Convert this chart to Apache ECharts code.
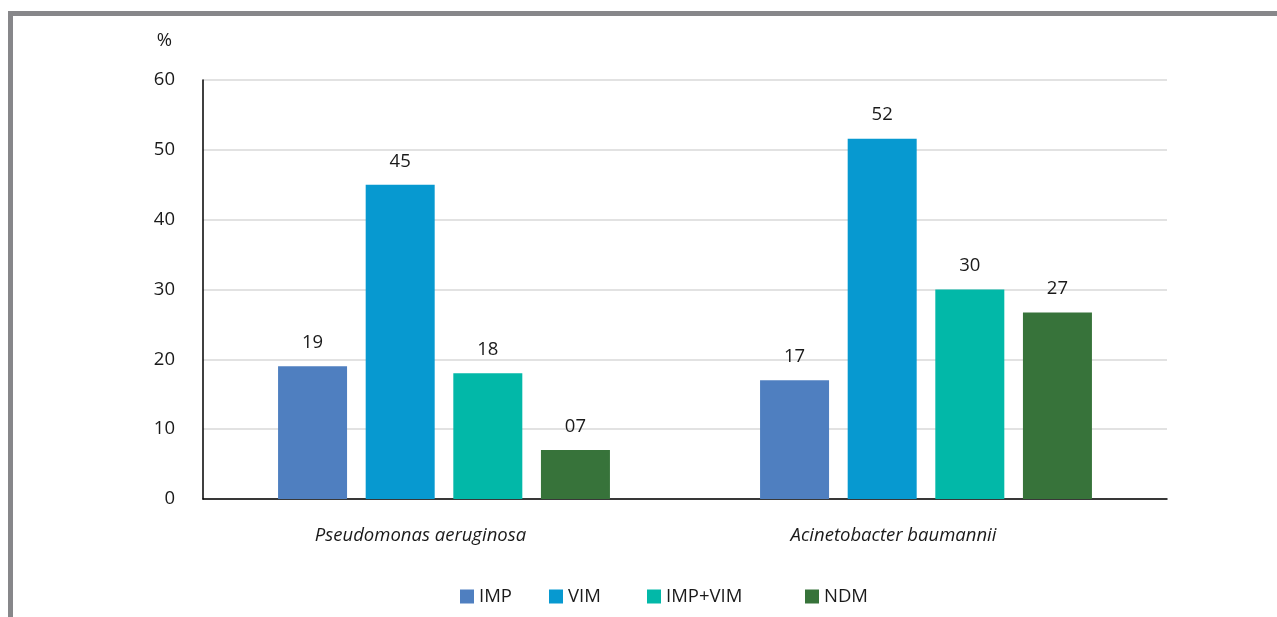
<!DOCTYPE html>
<html>
<head>
<meta charset="utf-8">
<script src="https://cdn.jsdelivr.net/npm/echarts@6/dist/echarts.min.js"></script>
<style>
  html, body { margin: 0; padding: 0; background: #fff; }
  #frame {
    position: absolute; left: 8px; top: 11px; right: 0; bottom: 0;
    border-top: 5px solid #87878a; border-left: 5px solid #87878a;
  }
  #main { position: absolute; left: 0; top: 0; width: 1277px; height: 617px; }
</style>
</head>
<body>
<div id="frame"></div>
<div id="main"></div>
<script>
const categories = ['Pseudomonas aeruginosa', 'Acinetobacter baumannii']
const seriesNames = ['IMP', 'VIM', 'IMP+VIM', 'NDM']
const impValues = [19, 17]
const vimValues = [45, 51.6]
const impVimValues = [18, 30]
const ndmValues = [7, 26.7]
const impLabels = ['19', '17']
const vimLabels = ['45', '52']
const impVimLabels = ['18', '30']
const ndmLabels = ['07', '27']
const yTicks = [0, 10, 20, 30, 40, 50, 60]

const colors = ['#4f7fc0', '#0799d0', '#02b8a8', '#37733a']
const font = 'Open Sans'
const fs = 18.5

const chart = echarts.init(document.getElementById('main'))

function makeSeries(name, values, labels, color) {
  return {
    name: name,
    type: 'bar',
    data: values,
    barWidth: 69,
    barGap: '27%',
    itemStyle: { color: color },
    label: {
      show: true,
      position: 'top',
      distance: 14,
      color: '#1a1a1a',
      fontFamily: font,
      fontSize: fs,
      formatter: (p) => labels[p.dataIndex],
    },
  }
}

// one legend per item, the gaps in the picture are uneven
const legendLefts = [455, 544, 642, 800]
const legends = seriesNames.map((n, i) => ({
  data: [n],
  left: legendLefts[i],
  top: 582,
  itemWidth: 14,
  itemHeight: 14,
  icon: 'rect',
  itemGap: 0,
  textStyle: { fontFamily: font, fontSize: fs, color: '#1a1a1a', padding: [8, 0, 0, 0] },
}))

// category names sit a bit left of the group centre in the picture
const labelShift = [47, 65]

chart.setOption({
  animation: false,
  legend: legends,
  grid: { left: 203, right: 110, top: 80, bottom: 118, containLabel: false },
  xAxis: {
    type: 'category',
    data: categories.map((c, i) => ({ value: c, textStyle: { padding: [0, labelShift[i], 0, 0] } })),
    axisLine: { lineStyle: { color: '#000', width: 1.5 } },
    axisTick: { show: false },
    axisLabel: {
      fontFamily: font, fontSize: fs, fontStyle: 'italic', color: '#1a1a1a', margin: 27,
    },
  },
  yAxis: {
    type: 'value',
    min: yTicks[0],
    max: yTicks[yTicks.length - 1],
    interval: 10,
    name: '%',
    nameLocation: 'end',
    nameGap: 30,
    nameTextStyle: { fontFamily: font, fontSize: fs, color: '#1a1a1a', align: 'right', padding: [0, 31, 0, 0] },
    axisLine: { show: true, lineStyle: { color: '#000', width: 1.5 } },
    axisTick: { show: false },
    axisLabel: { fontFamily: font, fontSize: fs, color: '#1a1a1a', margin: 28 },
    splitLine: { lineStyle: { color: '#d9d9d9', width: 1.5 } },
  },
  series: [
    makeSeries(seriesNames[0], impValues, impLabels, colors[0]),
    makeSeries(seriesNames[1], vimValues, vimLabels, colors[1]),
    makeSeries(seriesNames[2], impVimValues, impVimLabels, colors[2]),
    makeSeries(seriesNames[3], ndmValues, ndmLabels, colors[3]),
  ],
})
</script>
</body>
</html>
